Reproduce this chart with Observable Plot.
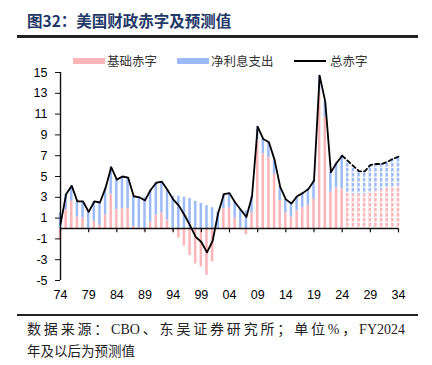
<!DOCTYPE html>
<html><head><meta charset="utf-8">
<script src="https://cdn.jsdelivr.net/npm/d3@7"></script>
<script src="https://cdn.jsdelivr.net/npm/@observablehq/plot@0.6"></script>
<style>
body{margin:0;background:#fff;width:432px;height:365px;position:relative;overflow:hidden;font-family:"Noto Sans CJK SC",sans-serif}
#title{position:absolute;left:27px;top:10px;font-size:15.5px;font-weight:700;color:#1f3868;white-space:nowrap;line-height:20px}
.hr{position:absolute;left:17px;width:401px;background:#222}
#chart{position:absolute;left:0;top:40px}
.lg{position:absolute;top:53px;font-size:12.5px;color:#333;line-height:16px;white-space:nowrap}
.sw{position:absolute;height:6px;width:32px}
.src{position:absolute;left:27px;font-size:13.5px;color:#222;font-family:"Liberation Serif","Noto Sans CJK SC",serif;white-space:nowrap;line-height:18px}
</style></head>
<body>
<div id="title">图32：美国财政赤字及预测值</div>
<div class="hr" style="top:35px;height:2.5px"></div>
<div class="sw" style="left:73px;top:58px;background:#ffb4b7"></div>
<div class="lg" style="left:107px">基础赤字</div>
<div class="sw" style="left:177px;top:58px;background:#9bbaf7"></div>
<div class="lg" style="left:211px">净利息支出</div>
<div class="sw" style="left:294px;top:60px;height:2px;background:#000"></div>
<div class="lg" style="left:330px">总赤字</div>
<div id="chart"></div>
<div class="hr" style="top:314px;height:1.5px"></div>
<div class="src" style="top:321px;width:378px;font-size:14px;text-align:justify;text-align-last:justify;white-space:normal">数据来源：CBO、东吴证券研究所；单位%，FY2024</div>
<div class="src" style="top:343px">年及以后为预测值</div>
<script>
const years = d3.range(1974, 2035);
const total = [0.4,3.3,4.1,2.6,2.6,1.6,2.6,2.5,3.9,5.9,4.7,5.0,4.9,3.1,3.0,2.7,3.7,4.4,4.5,3.7,2.8,2.2,1.3,0.3,-0.8,-1.3,-2.3,-1.2,1.5,3.3,3.4,2.5,1.8,1.1,3.1,9.8,8.6,8.3,6.6,4.0,2.8,2.4,3.1,3.4,3.8,4.6,14.7,12.2,5.4,6.3,7.0,6.5,6.0,5.5,5.5,6.1,6.2,6.2,6.4,6.7,6.9];
const interest = [1.5,1.5,1.5,1.5,1.6,1.7,1.9,2.2,2.6,2.6,2.9,3.1,3.0,2.9,2.9,3.0,3.1,3.1,3.0,2.9,3.1,3.1,3.0,2.9,2.6,2.4,2.2,2.0,1.6,1.4,1.4,1.5,1.7,1.7,1.6,1.3,1.4,1.5,1.4,1.3,1.3,1.3,1.4,1.4,1.6,1.8,1.6,1.5,1.9,2.4,3.2,3.1,2.7,2.2,2.2,2.6,2.6,2.5,2.5,2.7,2.8];
const primary = [-1.1,1.8,2.6,1.1,1.0,-0.1,0.7,0.3,1.3,3.3,1.8,1.9,1.9,0.2,0.1,-0.3,0.6,1.3,1.5,0.8,-0.3,-0.9,-1.7,-2.6,-3.4,-3.7,-4.5,-3.2,-0.1,1.9,2.0,1.0,0.1,-0.6,1.5,8.5,7.2,6.8,5.2,2.7,1.5,1.1,1.7,2.0,2.2,2.8,13.1,10.7,3.5,3.9,3.8,3.4,3.3,3.3,3.3,3.5,3.6,3.7,3.9,4.0,4.1];
const seriesNames = ["基础赤字","净利息支出"];
const seriesColors = ["#ffb4b7","#9bbaf7"];
const yTicks = [-5,-3,-1,1,3,5,7,9,11,13,15];
const xTicks = [1974,1979,1984,1989,1994,1999,2004,2009,2014,2019,2024,2029,2034];
const lastActualLine = 2024;  // line dashed after this
const firstProjBar = 2025;    // bars dashed from this

const hw = 0.22;
const bars = [];
years.forEach((y,i)=>{
  bars.push({year:y, series:seriesNames[0], value:primary[i]});
  bars.push({year:y, series:seriesNames[1], value:interest[i]});
});
const proj = years.map((y,i)=>({year:y, lo:Math.min(0,primary[i]), hi:Math.max(0,primary[i])+interest[i]})).filter(d=>d.year>=firstProjBar);
const lineData = years.map((y,i)=>({year:y, v:total[i]}));

const chart = Plot.plot({
  width: 432, height: 270,
  marginTop: 32, marginBottom: 30, marginLeft: 60, marginRight: 34,
  style: {fontFamily: '"Liberation Sans", Arial, sans-serif', fontSize: "12.5px", color: "#000", background: "transparent"},
  x: {domain: [years[0], years[years.length-1]], label: null},
  y: {domain: [yTicks[0], yTicks[yTicks.length-1]], label: null},
  color: {domain: seriesNames, range: seriesColors},
  marks: [
    Plot.rectY(bars, {x1: d=>d.year-hw, x2: d=>d.year+hw, y: "value", fill: "series"}),
    Plot.ruleX(proj, {x: "year", y1: "lo", y2: "hi", stroke: "white", strokeWidth: 2.6, strokeDasharray: "1.6,3.4"}),
    Plot.ruleY([0], {x1: years[0], x2: years[years.length-1], stroke: "#111", strokeWidth: 1.4}),
    Plot.ruleX(xTicks, {y1: 0, y2: -0.42, stroke: "#111", strokeWidth: 1.2}),
    Plot.ruleX([years[0]], {y1: yTicks[0], y2: yTicks[yTicks.length-1], stroke: "#111", strokeWidth: 1.4}),
    Plot.line(lineData.filter(d=>d.year<=lastActualLine), {x: "year", y: "v", stroke: "#000", strokeWidth: 1.8}),
    Plot.line(lineData.filter(d=>d.year>=lastActualLine), {x: "year", y: "v", stroke: "#000", strokeWidth: 1.8, strokeDasharray: "4,3"}),
    Plot.axisY({ticks: yTicks, tickSize: 5, tickPadding: 8, tickFormat: d=>String(d), stroke: "#111", label: null}),
    Plot.axisX({ticks: xTicks, tickSize: 0, tickPadding: 10, tickFormat: d=>String(d).slice(2), label: null})
  ]
});
document.getElementById("chart").appendChild(chart);
</script>
</body></html>
